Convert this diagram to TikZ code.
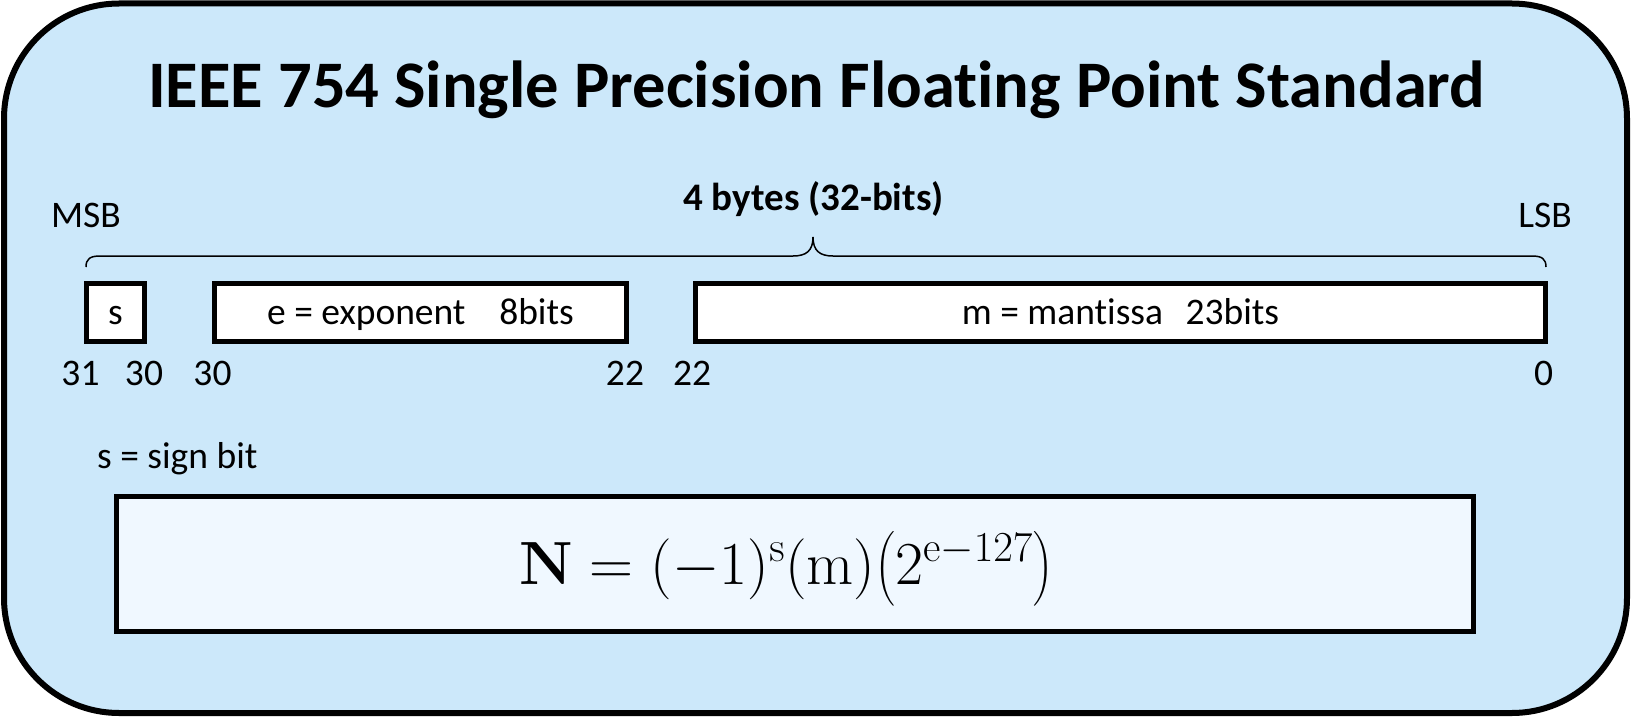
\RequirePackage{fix-cm}
\documentclass[tikz,border=0pt]{standalone}
\usepackage{amsmath}
\usepackage[no-math]{fontspec}
\setmainfont{Carlito}[Ligatures=NoCommon]
\definecolor{bgblue}{RGB}{204,232,250}
\definecolor{formbg}{RGB}{240,248,255}
\begin{document}
\begin{tikzpicture}[x=1pt,y=-1pt,
  lbl/.style={font=\fontsize{37.5}{44}\selectfont, inner sep=0pt, anchor=base},
  bitbox/.style={draw=black, line width=5pt, fill=white, inner sep=0pt,
    font=\fontsize{37.5}{44}\selectfont, text height=25pt, text depth=2pt},
  bracestyle/.style={line width=1.5pt}]
\useasboundingbox (0,0) rectangle (1631,717);
\draw[line width=6pt, fill=bgblue, rounded corners=115pt] (4,3.5) rectangle (1627,713);
\node[font=\fontsize{66.5}{74}\selectfont\bfseries, inner sep=0pt, anchor=base] (title) at (816.5,107) {IEEE 754 Single Precision Floating Point Standard};
\node[font=\fontsize{39}{46}\selectfont\bfseries, inner sep=0pt, anchor=base] (bytes) at (813.5,210) {4 bytes (32-bits)};
\node[lbl] (msb) at (86,227) {MSB};
\node[lbl] (lsb) at (1545,227) {LSB};
% brace
\draw[bracestyle] (86,267) .. controls (86,259) and (90,256) .. (100,256) -- (793,256)
  .. controls (806,256) and (813,251) .. (813,237)
  .. controls (813,251) and (820,256) .. (833,256) -- (1532,256)
  .. controls (1542,256) and (1546,259) .. (1546,267);
% bit boxes
\node[bitbox, minimum width=58pt, minimum height=58pt] (sbox) at (115.5,312.5) {s};
\node[bitbox, minimum width=412pt, minimum height=58pt] (ebox) at (420.5,312.5) {e = exponent\hspace{0.9em}8bits};
\node[bitbox, minimum width=850pt, minimum height=58pt] (mbox) at (1120.5,312.5) {m = mantissa\hspace{0.6em}23bits};
% bit indices
\node[lbl] (b31) at (80.5,385) {31};
\node[lbl] (b30a) at (144,385) {30};
\node[lbl] (b30b) at (212.5,385) {30};
\node[lbl] (b22a) at (625,385) {22};
\node[lbl] (b22b) at (692,385) {22};
\node[lbl] (b0) at (1543.5,385) {0};
\node[lbl, anchor=base west] (sign) at (97,468) {s = sign bit};
% formula
\node[draw=black, line width=5pt, fill=formbg, minimum width=1357pt, minimum height=135pt] (fbox) at (795,564) {};
\node[inner sep=0pt, anchor=base, font=\fontsize{61}{68}\selectfont] (formula) at (786,584)
  {$\mathbf{N} = (-1)^{\mathrm{s}}(\mathrm{m})\bigl(2^{\mathrm{e}-127}\bigr)$};
\end{tikzpicture}
\end{document}
